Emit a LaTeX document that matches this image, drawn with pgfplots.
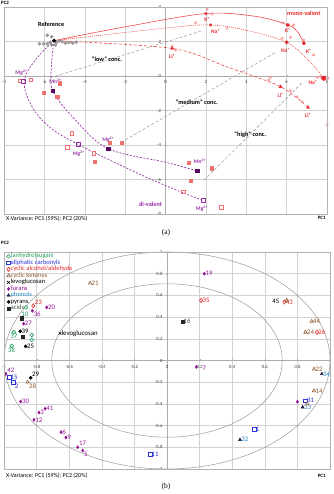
\documentclass[border=0pt]{standalone}
\usepackage{fontspec}
\setmainfont{Carlito}
\newfontfamily\capfont{Liberation Serif}
\usepackage{pgfplots}
\pgfplotsset{compat=1.18}

% colours
\definecolor{monoC}{RGB}{232,40,42}
\definecolor{lineR}{RGB}{238,72,72}
\definecolor{pinkR}{RGB}{245,150,150}
\definecolor{pinkS}{RGB}{242,112,112}
\definecolor{divC}{RGB}{150,50,165}
\definecolor{mnC}{RGB}{88,10,98}
\definecolor{refG}{RGB}{150,150,150}
\definecolor{concG}{RGB}{140,140,140}
\definecolor{sugC}{RGB}{30,155,90}
\definecolor{carbC}{RGB}{40,50,215}
\definecolor{cycC}{RGB}{228,38,38}
\definecolor{ketC}{RGB}{140,90,50}
\definecolor{furC}{RGB}{150,20,150}
\definecolor{phenT}{RGB}{40,140,200}
\definecolor{phenM}{RGB}{30,30,70}
\definecolor{acidT}{RGB}{60,90,60}

\tikzset{
  lbl/.style={font=\bfseries\fontsize{5.5}{6}\selectfont, inner sep=0pt},
  ann/.style={font=\bfseries\fontsize{6.3}{7}\selectfont, inner sep=0pt},
}
\pgfplotsset{
  pcastyle/.style={
    scale only axis, axis lines=middle, clip=false,
    axis line style={draw=gray!65, -},
    grid=major, grid style={draw=gray!35, line width=0.4pt},
    tick style={draw=gray!65}, major tick length=2bp,
    ticklabel style={font=\fontsize{4.8}{5}\selectfont, text=black!75},
    /pgf/number format/assume math mode=true,
    hide obscured x ticks=false, hide obscured y ticks=false,
    after end axis/.code={\draw[gray!60, line width=0.5pt] (rel axis cs:0,0) rectangle (rel axis cs:1,1);},
  },
  num/.style={nodes near coords, point meta=explicit symbolic,
    visualization depends on={value \thisrow{anc}\as\myanchor},
    every node near coord/.append style={anchor=\myanchor, inner sep=1.2bp,
      font=\fontsize{6.9}{7.5}\selectfont, text=#1}},
}

\begin{document}
\begin{tikzpicture}
\path[use as bounding box] (0,0) rectangle (334bp,494bp);

% ---------------- (a) score plot ----------------
\begin{axis}[pcastyle, at={(4bp,280bp)}, anchor=south west,
  width=323bp, height=207bp,
  xmin=-8, xmax=8, ymin=-8, ymax=4,
  xtick={-8,-6,...,8}, ytick={-8,-6,...,4}]

% concentration guides
\addplot[concG, line width=0.45pt, dash pattern=on 3bp off 2bp] coordinates {(-5.7,-0.1) (1.75,2.6)};
\addplot[concG, line width=0.45pt, dash pattern=on 3bp off 2bp] coordinates {(-2.2,-3.85) (5.5,1.4)};
\addplot[concG, line width=0.45pt, dash pattern=on 3bp off 2bp] coordinates {(1.9,-6.05) (6.8,-0.35)};

% mono-valent trajectories
\addplot[lineR, line width=0.6pt, smooth, tension=0.55] coordinates {
  (-5.52,2.05) (-2,2.85) (2,3.62) (4.5,3.45) (6.06,2.96) (6.55,2.55) (6.85,1.9)};
\addplot[lineR, line width=0.6pt, smooth, tension=0.55, dash pattern=on 1bp off 1bp] coordinates {
  (-5.52,2.05) (0,2.78) (2.23,2.96) (4.2,2.6) (6,1.95) (7.1,0.9) (7.84,-0.13)};
\addplot[lineR, line width=0.6pt, smooth, tension=0.5, dash pattern=on 3bp off 2bp] coordinates {
  (-5.52,2.05) (0.33,1.6) (3,0.55) (5.7,-0.62) (7.06,-1.82)};

% di-valent trajectories
\addplot[divC, line width=0.7pt, smooth, tension=0.6, dash pattern=on 2bp off 1.5bp] coordinates {
  (-5.52,2.05) (-6.4,1.0) (-7.0,-0.3) (-6.6,-1.8) (-5.7,-3.0) (-4.34,-3.96) (-2,-5.3) (0,-6.35) (1.87,-7.23)};
\addplot[divC, line width=0.7pt, smooth, tension=0.6, dash pattern=on 2bp off 1.5bp] coordinates {
  (-5.52,2.05) (-5.65,0.6) (-5.58,-0.85) (-4.5,-2.5) (-2.84,-4.21) (0,-5.0) (1.57,-5.5)};

% replicates
\addplot[only marks, mark=asterisk, mark size=1.6bp, pinkR, line width=0.5pt] coordinates {
  (2.06,3.87) (2.31,3.59) (1.49,3.09) (3.05,2.76) (5.81,3.09) (6.35,2.96) (5.78,2.18)
  (6.85,2.09) (6.19,2.24) (7.34,1.22) (7.51,-0.08) (8.05,-0.13) (7.67,-0.04)
  (0.5,1.5) (0.33,1.72) (5.2,-0.08) (5.11,-0.23) (6.19,-0.85) (6.52,-1.2) (6.77,-1.49) (8.0,-2.84)};
\addplot[only marks, mark=square, mark size=1.7bp, pinkS, line width=0.5pt] coordinates {
  (-7.23,-0.29) (-6.68,-0.23) (-4.65,-3.32) (-4.87,-4.14) (-3.55,-4.48) (0.88,-6.7) (2.77,-7.61)};
\addplot[only marks, mark=square*, mark size=1.6bp, pinkS, mark options={draw=pinkS, fill=pinkS}] coordinates {
  (-6.02,-0.97) (-5.36,-1.2) (-5.23,-0.42) (-3.5,-4.97) (-2.76,-3.85) (-2.18,-3.85)
  (1.15,-5.02) (2.28,-5.35) (1.24,-6.07)};

% reference samples
\addplot[only marks, mark=*, mark size=1.6bp, mark options={draw=refG, fill=refG}] coordinates {
  (-6.24,1.87) (-6.04,1.86) (-5.86,1.86) (-5.86,2.36) (-5.64,2.28) (-5.64,1.80) (-5.45,1.80)
  (-5.4,1.95) (-5.26,2.03) (-5.11,1.99) (-4.95,1.9) (-4.79,1.95) (-4.6,1.9) (-4.42,1.96) (-5.72,1.95)};
\addplot[only marks, mark=*, mark size=1.8bp, black] coordinates {(-5.52,2.05)};

% mono-valent centroids
\addplot[only marks, mark=*, mark size=1.3bp, monoC] coordinates {(2,3.62) (2.23,2.96)};
\addplot[only marks, mark=*, mark size=1.7bp, monoC] coordinates {(6.06,2.96) (6,1.95) (6.85,1.9)};
\addplot[only marks, mark=*, mark size=2.3bp, monoC] coordinates {(7.84,-0.13)};
\addplot[only marks, mark=triangle*, mark size=1.8bp, monoC] coordinates {(0.33,1.6) (5.7,-0.62) (7.06,-1.82)};

% di-valent centroids
\addplot[only marks, mark=square, mark size=2bp, divC, line width=0.7pt] coordinates {(-7.02,-0.33) (-4.34,-3.96) (1.87,-7.23)};
\addplot[only marks, mark=square*, mark size=1.8bp, mnC] coordinates {(-5.58,-0.85) (-2.84,-4.21) (1.57,-5.5)};

% annotations
\node[ann] at (axis cs:-5.66,3.0) {Reference};
\node[ann, text=monoC] at (axis cs:6.85,3.63) {mono-valent};
\node[ann, text=divC] at (axis cs:-0.74,-7.42) {di-valent};
\node[ann] at (axis cs:-2.9,0.97) {"low" conc.};
\node[ann] at (axis cs:1.55,-1.5) {"medium" conc.};
\node[ann] at (axis cs:4.2,-3.42) {"high" conc.};

\node[lbl, text=monoC] at (axis cs:2.06,3.3) {K\textsuperscript{+}};
\node[lbl, text=monoC] at (axis cs:6.06,2.62) {K\textsuperscript{+}};
\node[lbl, text=monoC] at (axis cs:7.1,1.45) {K\textsuperscript{+}};
\node[lbl, text=monoC] at (axis cs:2.48,2.57) {Na\textsuperscript{+}};
\node[lbl, text=monoC] at (axis cs:5.94,1.47) {Na\textsuperscript{+}};
\node[lbl, text=monoC] at (axis cs:7.3,-0.35) {Na\textsuperscript{+}};
\node[lbl, text=monoC] at (axis cs:0.33,1.12) {Li\textsuperscript{+}};
\node[lbl, text=monoC] at (axis cs:5.7,-1.1) {Li\textsuperscript{+}};
\node[lbl, text=monoC] at (axis cs:7.06,-2.26) {Li\textsuperscript{+}};

\node[lbl, text=divC] at (axis cs:-7.14,0.19) {Mg\textsuperscript{2+}};
\node[lbl, text=divC] at (axis cs:-5.45,-0.33) {Mn\textsuperscript{2+}};
\node[lbl, text=divC] at (axis cs:-4.3,-4.5) {Mg\textsuperscript{2+}};
\node[lbl, text=divC] at (axis cs:-2.84,-3.71) {Mg\textsuperscript{2+}};
\node[lbl, text=divC] at (axis cs:1.7,-4.97) {Mn\textsuperscript{2+}};
\node[lbl, text=divC] at (axis cs:1.8,-7.67) {Mg\textsuperscript{2+}};
\end{axis}

% ---------------- (b) correlation loadings ----------------
\begin{axis}[pcastyle, at={(4bp,25bp)}, anchor=south west,
  width=326bp, height=217bp,
  xmin=-1, xmax=1, ymin=-1, ymax=1,
  xtick={-1,-0.8,-0.6,-0.4,-0.2,0,0.2,0.4,0.6,0.8,1},
  ytick={-1,-0.8,-0.6,-0.4,-0.2,0,0.2,0.4,0.6,0.8,1},
  legend image code/.code={\draw[mark repeat=2,mark phase=2,#1] plot coordinates {(-1.5bp,0bp) (1bp,0bp) (3.5bp,0bp)};},
  legend style={at={(axis cs:-0.985,0.99)}, anchor=north west, draw=none, fill=none,
    inner sep=0pt, row sep=0.3bp,
    nodes={inner sep=0.3bp, text height=4.4bp, text depth=1.2bp, font=\fontsize{6.6}{7}\selectfont},
    /tikz/every even column/.append style={column sep=1.5bp}},
  legend cell align=left]

% explained-variance circles
\draw[gray!75, line width=0.55pt] (axis cs:0,0) ellipse [x radius=1, y radius=1];
\draw[gray!75, line width=0.55pt] (axis cs:0,0) ellipse [x radius=0.707, y radius=0.707];

\addplot[only marks, mark=o, mark size=1.9bp, sugC, line width=0.6pt, num=sugC] table[meta=lab] {
x y lab anc
-0.94 0.26 37 north
-0.953 0.135 38 north
};
\addlegendentry{\textcolor{sugC}{(anhydro)sugars}}

\addplot[only marks, mark=square, mark size=1.8bp, carbC, line width=0.6pt, num=carbC] table[meta=lab] {
x y lab anc
-0.968 -0.157 15 west
-0.943 -0.199 2 {north west}
-0.104 -0.863 11 west
0.536 -0.633 1 west
0.85 -0.37 31 west
};
\addlegendentry{\textcolor{carbC}{aliphatic carbonyls}}

\addplot[only marks, mark=diamond, mark size=2.1bp, cycC, line width=0.6pt, num=cycC] table[meta=lab] {
x y lab anc
-0.82 0.504 23 {south west}
0.209 0.553 35 west
0.72 0.54 43 west
0.92 0.26 26 west
};
\addlegendentry{\textcolor{cycC}{cyclic alcohol/aldehyde}}

\addplot[only marks, mark=triangle, mark size=2bp, ketC, line width=0.6pt, num=ketC] table[meta=lab] {
x y lab anc
-0.472 0.713 21 west
0.888 0.36 44 west
0.85 0.26 24 west
-0.855 -0.2 28 {north west}
0.902 -0.08 22 west
0.902 -0.28 14 west
};
\addlegendentry{\textcolor{ketC}{cyclic ketones}}

\addplot[only marks, mark=x, mark size=1.8bp, black, line width=0.6pt, num=black] table[meta=lab] {
x y lab anc
-0.656 0.25 levoglucosan west
};
\addlegendentry{levoglucosan}

\addplot[only marks, mark=diamond*, mark size=1.6bp, furC, num=furC] table[meta=lab] {
x y lab anc
-0.738 0.49 20 west
-0.826 0.458 36 {north west}
-0.88 0.34 27 west
0.229 0.80 19 west
-0.988 -0.123 42 {south west}
-0.898 -0.378 30 west
-0.748 -0.445 41 west
-0.785 -0.48 3 west
-0.816 -0.547 12 west
-0.65 -0.66 6 west
-0.62 -0.71 9 west
-0.548 -0.8 17 {south west}
-0.517 -0.83 5 {north west}
};
\addlegendentry{\textcolor{furC}{furans}}

\addplot[only marks, mark=triangle*, mark size=1.8bp, phenM, num=phenT] table[meta=lab] {
x y lab anc
0.95 -0.123 34 west
0.832 -0.43 33 west
0.448 -0.73 32 west
};
\addlegendentry{\textcolor{phenT}{phenols}}

\addplot[only marks, mark=*, mark size=1.6bp, black, num=black] table[meta=lab] {
x y lab anc
-0.90 0.27 39 west
-0.867 0.13 25 west
-0.836 -0.16 29 {south west}
};
\addlegendentry{pyrans}

\addplot[only marks, mark=square*, mark size=1.6bp, black!85, num=black!70] table[meta=lab] {
x y lab anc
0.094 0.36 16 west
};
\addlegendentry{\textcolor{acidT}{acids}}

% loadings labelled separately or left unlabelled
\addplot[only marks, mark=o, mark size=1.9bp, sugC, line width=0.6pt, forget plot] coordinates {(-0.865,0.49) (-0.83,0.235) (-0.83,0.19)};
\addplot[only marks, mark=triangle, mark size=2bp, ketC, line width=0.6pt, forget plot] coordinates {(0.735,0.555) (0.86,-0.4)};
\addplot[only marks, mark=diamond*, mark size=1.6bp, furC, forget plot] coordinates {(0.80,-0.38) (0.18,-0.06)};
\addplot[only marks, mark=square*, mark size=1.6bp, black!85, forget plot] coordinates {(-0.89,0.39) (-0.886,0.216)};
\node[anchor=north, inner sep=0pt, text=sugC, font=\fontsize{6.9}{7.5}\selectfont] at (axis cs:-0.872,0.448) {10};
\node[anchor=east, inner sep=0pt, font=\fontsize{6.9}{7.5}\selectfont] at (axis cs:0.69,0.545) {45};
\node[anchor=west, inner sep=0pt, text=furC, font=\fontsize{6.9}{7.5}\selectfont] at (axis cs:0.218,-0.07) {7};
\end{axis}

% outer texts
\node[anchor=west, inner sep=0pt, font=\bfseries\fontsize{5}{6}\selectfont] at (1bp,491bp) {PC2};
\node[anchor=west, inner sep=0pt, font=\fontsize{6}{7}\selectfont] at (6bp,275.7bp) {X-Variance: PC1 (59\%); PC2 (20\%)};
\node[inner sep=0pt, font=\bfseries\fontsize{5}{6}\selectfont] at (321.7bp,276.3bp) {PC1};
\node[inner sep=0pt, font=\capfont\fontsize{7.5}{8}\selectfont] at (166bp,261bp) {(a)};

\node[anchor=west, inner sep=0pt, font=\bfseries\fontsize{5}{6}\selectfont] at (1bp,251.3bp) {PC2};
\node[anchor=west, inner sep=0pt, font=\fontsize{6}{7}\selectfont] at (6bp,18bp) {X-Variance: PC1 (59\%); PC2 (20\%)};
\node[inner sep=0pt, font=\bfseries\fontsize{5}{6}\selectfont] at (321.7bp,18bp) {PC1};
\node[inner sep=0pt, font=\capfont\fontsize{7.5}{8}\selectfont] at (166bp,7bp) {(b)};
\end{tikzpicture}
\end{document}
